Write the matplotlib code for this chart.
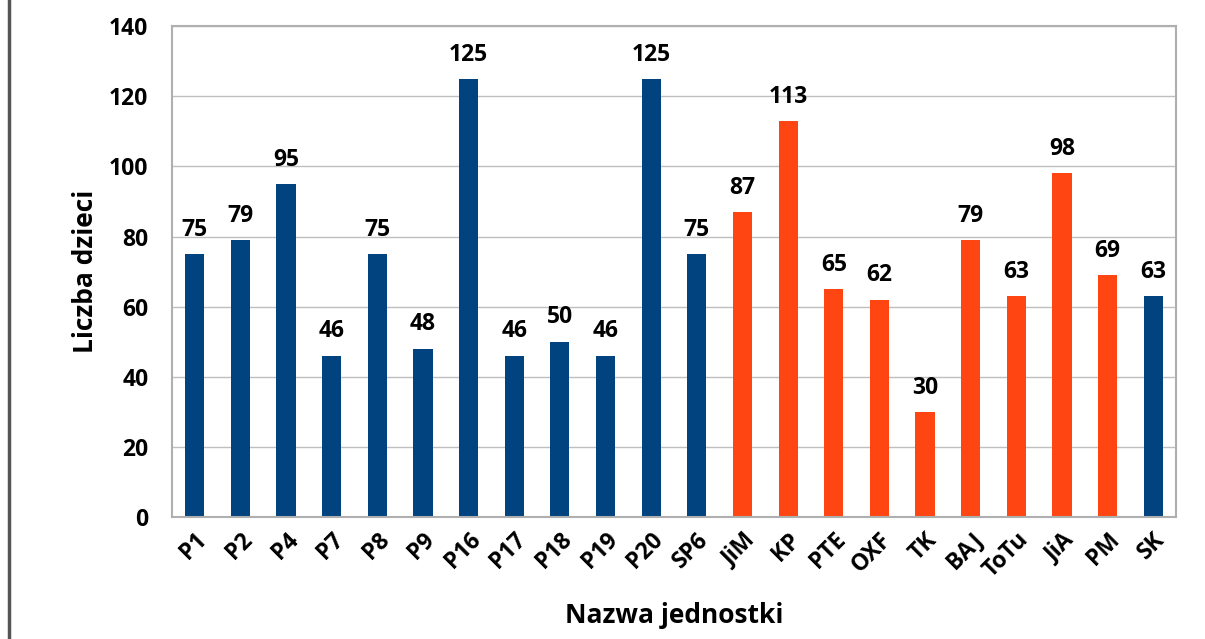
import numpy as np
import matplotlib.pyplot as plt
from matplotlib.lines import Line2D

plt.rcParams['font.family'] = ['Open Sans', 'DejaVu Sans']

units = ['P1', 'P2', 'P4', 'P7', 'P8', 'P9', 'P16', 'P17', 'P18', 'P19', 'P20',
         'SP6', 'JiM', 'KP', 'PTE', 'OXF', 'TK', 'BAJ', 'ToTu', 'JiA', 'PM', 'SK']
children = [75, 79, 95, 46, 75, 48, 125, 46, 50, 46, 125,
            75, 87, 113, 65, 62, 30, 79, 63, 98, 69, 63]
group = ['a'] * 12 + ['b'] * 9 + ['a']

colours = {'a': '#00437F', 'b': '#FF4512'}

fig = plt.figure(figsize=(12.05, 6.39), dpi=100)
ax = fig.add_axes([0.1427, 0.191, 0.8333, 0.768])

x = np.arange(len(units))
bars = ax.bar(x, children, width=0.42, color=[colours[g] for g in group], zorder=2)

for xi, v in zip(x, children):
    ax.text(xi, v + 3.5, str(v), ha='center', va='bottom', fontsize=16.5, fontweight='bold')

ax.set_xlim(-0.5, len(units) - 0.5)
ax.set_ylim(0, 140)
ax.set_yticks(np.arange(0, 141, 20))
ax.yaxis.grid(True, color='#BFBFBF', linewidth=1, zorder=0)
ax.tick_params(axis='both', length=0, labelsize=16.5)
ax.tick_params(axis='y', pad=17)
ax.tick_params(axis='x', pad=8)
ax.set_xticks(x)
ax.set_xticklabels(units, rotation=45, ha='right', rotation_mode='anchor', fontweight='bold')
for lab in ax.get_yticklabels():
    lab.set_fontweight('bold')
for s in ax.spines.values():
    s.set_color('#AFAFAF')
    s.set_linewidth(1.5)

ax.set_ylabel('Liczba dzieci', fontsize=19, fontweight='bold', labelpad=7)
ax.set_xlabel('Nazwa jednostki', fontsize=19, fontweight='bold', labelpad=14)

# frame line at the left edge of the picture
fig.add_artist(Line2D([0.0075, 0.0075], [0, 1], color='#555555', linewidth=2.5,
                      transform=fig.transFigure))

fig.savefig('out.png', dpi=100)
